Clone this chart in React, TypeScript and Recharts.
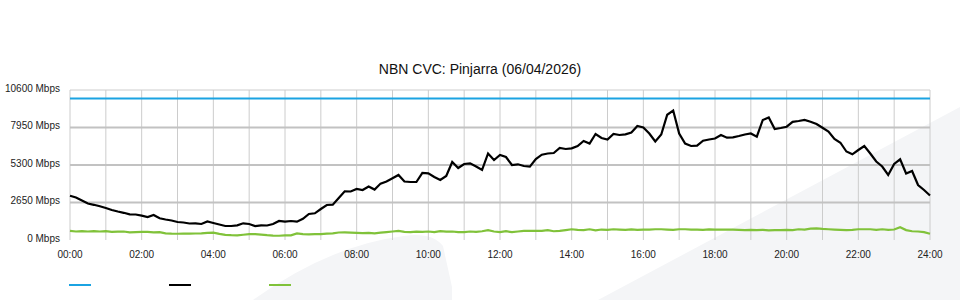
import React from "react";
import { LineChart, Line, XAxis, YAxis, CartesianGrid, Legend } from "recharts";

// ---- data (10-minute samples, 00:00 .. 24:00) ----
const sampleIntervalMinutes = 10;
const capacityMbps = 10000;

const downloadMbps = [
  3130, 3003, 2791, 2579, 2487, 2381, 2261, 2120, 2014, 1922, 1816, 1802, 1717, 1625, 1767, 1533,
  1449, 1378, 1272, 1237, 1166, 1180, 1131, 1307, 1201, 1095, 989, 989, 1039, 1180, 1131, 989,
  1039, 1025, 1131, 1343, 1293, 1343, 1293, 1498, 1837, 1887, 2191, 2473, 2494, 2968, 3441, 3427,
  3604, 3533, 3781, 3562, 3986, 4134, 4360, 4593, 4134, 4099, 4099, 4749, 4713, 4452, 4240, 4523,
  5512, 5088, 5371, 5420, 5194, 4947, 6113, 5653, 6007, 5865, 5300, 5349, 5229, 5180, 5724, 6028,
  6113, 6148, 6501, 6431, 6480, 6643, 6996, 6819, 7491, 7208, 7102, 7491, 7420, 7469, 7597, 8056,
  7950, 7526, 6961, 7455, 8850, 9150, 7526, 6819, 6643, 6664, 7017, 7102, 7173, 7420, 7229, 7257,
  7349, 7455, 7526, 7300, 8480, 8657, 7844, 7915, 8006, 8353, 8409, 8480, 8360, 8197, 7936, 7667,
  7137, 6876, 6254, 6056, 6360, 6643, 6113, 5547, 5194, 4593, 5371, 5703, 4699, 4876, 3887, 3533,
  3145,
];

const uploadMbps = [
  640, 600, 630, 600, 630, 600, 620,
  580, 590, 600, 540, 560, 570,
  580, 540, 560, 470, 450, 440,
  450, 450, 460, 470, 500, 520,
  430, 360, 340, 330, 370, 410,
  420, 380, 340, 310, 300, 320,
  330, 470, 420, 400, 410, 420,
  450, 470, 530, 540, 520, 500,
  480, 500, 470, 520, 560, 600,
  640, 580, 560, 590, 580, 600,
  560, 620, 590, 600, 550, 560,
  600, 580, 620, 690, 600, 560,
  620, 560, 600, 640, 640, 640,
  650, 700, 620, 640, 700, 760,
  720, 700, 760, 680, 740, 720,
  760, 740, 720, 750, 720, 740,
  740, 760, 760, 740, 720, 760,
  760, 740, 740, 720, 750, 740,
  740, 730, 740, 720, 700, 720,
  700, 720, 680, 700, 700, 720,
  700, 760, 740, 800, 820, 780,
  760, 740, 720, 700, 720, 760,
  760, 760, 720, 760, 720, 740,
  900, 700, 620, 600, 560, 440,
];

const hourTicks = [0, 60, 120, 180, 240, 300, 360, 420, 480, 540, 600, 660, 720, 780, 840, 900, 960, 1020, 1080, 1140, 1200, 1260, 1320, 1380, 1440];
const xTickLabels: Record<number, string> = {
  0: "00:00", 120: "02:00", 240: "04:00", 360: "06:00", 480: "08:00", 600: "10:00",
  720: "12:00", 840: "14:00", 960: "16:00", 1080: "18:00", 1200: "20:00", 1320: "22:00", 1440: "24:00",
};
const yTicks = [0, 2650, 5300, 7950, 10600];
const majorGridValues = [2650, 5300, 7950];
const topGridValues = [10600];

const seriesColors = { capacity: "#1ba3e2", download: "#000000", upload: "#80c23a" };

const chartData = downloadMbps.map((d, i) => ({
  minute: i * sampleIntervalMinutes,
  capacity: capacityMbps,
  download: d,
  upload: uploadMbps[i],
}));

const FONT = '"Liberation Sans", Arial, Helvetica, sans-serif';

const YTick = (props: any) => {
  const { x, y, payload } = props;
  return (
    <text x={x} y={y - 2} textAnchor="end" dominantBaseline="central" fontSize={10} fontFamily={FONT} fill="#222">
      {`${payload.value} Mbps`}
    </text>
  );
};

const XTick = (props: any) => {
  const { x, y, payload } = props;
  const label = xTickLabels[payload.value];
  if (!label) return <g />;
  return (
    <text x={x} y={y} dy="0.71em" textAnchor="middle" fontSize={10} fontFamily={FONT} fill="#222">
      {label}
    </text>
  );
};

const LegendContent = (props: any) => {
  const payload = props.payload || [];
  return (
    <div style={{ display: "flex", paddingLeft: 69, height: 2 }}>
      {payload.map((p: any) => (
        <div key={p.value} style={{ width: 100, height: 2 }}>
          <div style={{ width: 22, height: 2, background: p.color }} />
        </div>
      ))}
    </div>
  );
};

export default function App() {
  return (
    <div style={{ position: "absolute", left: 0, top: 0, width: 960, height: 300, background: "#fff", overflow: "hidden" }}>
      <svg width={960} height={300} style={{ position: "absolute", left: 0, top: 0 }}>
        <path d="M598,300 L960,107 L960,300 Z" fill="#f4f5f7" />
        <path d="M253,300 Q330,245 404,236 Q432,232 443,246 L452,287 L452,300 Z" fill="#f4f5f7" />
      </svg>
      <div
        style={{
          position: "absolute", left: 0, top: 61, width: 960, textAlign: "center",
          fontFamily: FONT, fontSize: 14, lineHeight: "16px", color: "#111",
        }}
      >
        NBN CVC: Pinjarra (06/04/2026)
      </div>
      <div style={{ position: "absolute", left: 0, top: 0 }}>
        <LineChart width={960} height={300} data={chartData} margin={{ top: 90, right: 30, left: 0, bottom: 40 }}>
          <CartesianGrid horizontalValues={topGridValues} verticalValues={hourTicks} stroke="#cccccc" strokeWidth={1} />
          <CartesianGrid horizontalValues={majorGridValues} vertical={false} stroke="#c2c2c2" strokeWidth={2} />
          <XAxis
            dataKey="minute"
            type="number"
            domain={[0, 1440]}
            ticks={hourTicks}
            interval={0}
            height={20}
            axisLine={false}
            tickLine={false}
            tickSize={0}
            tickMargin={11}
            tick={<XTick />}
          />
          <YAxis
            domain={[0, 10600]}
            ticks={yTicks}
            interval={0}
            width={70}
            axisLine={false}
            tickLine={false}
            tickSize={0}
            tickMargin={10}
            tick={<YTick />}
          />
          <Legend
            layout="horizontal"
            verticalAlign="middle"
            align="center"
            content={<LegendContent />}
            wrapperStyle={{ top: 284, left: 0, width: 960, height: 2 }}
          />
          <Line type="linear" dataKey="capacity" name="Capacity" stroke={seriesColors.capacity} strokeWidth={2} dot={false} isAnimationActive={false} />
          <Line type="linear" dataKey="download" name="Download" stroke={seriesColors.download} strokeWidth={2.2} dot={false} isAnimationActive={false} />
          <Line type="linear" dataKey="upload" name="Upload" stroke={seriesColors.upload} strokeWidth={2.2} dot={false} isAnimationActive={false} />
        </LineChart>
      </div>
    </div>
  );
}
